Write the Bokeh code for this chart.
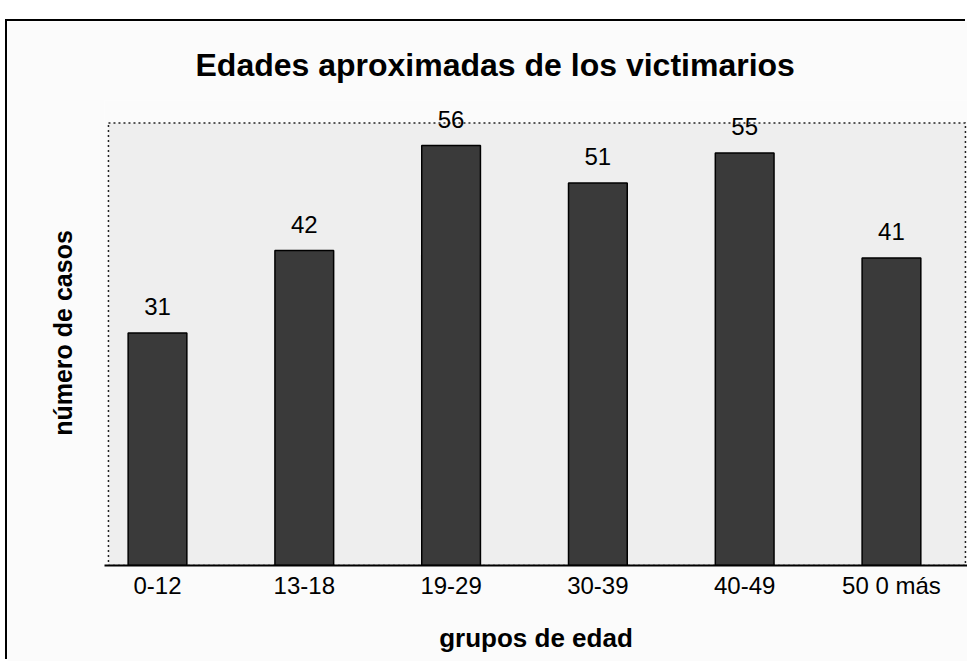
from bokeh.plotting import figure
from bokeh.models import ColumnDataSource, LabelSet, Range1d, FixedTicker, BoxAnnotation
from bokeh.core.properties import value
from bokeh.embed import file_html
from bokeh.resources import INLINE

categories = ["0-12", "13-18", "19-29", "30-39", "40-49", "50 0 más"]
values = [31, 42, 56, 51, 55, 41]
positions = list(range(len(categories)))

source = ColumnDataSource(dict(x=positions, top=values, label=[str(v) for v in values]))

p = figure(width=960, height=640, output_backend="svg", toolbar_location=None,
           x_range=Range1d(-0.361, 5.518), y_range=Range1d(0, 62),
           min_border_left=97, min_border_right=0, min_border_top=79, min_border_bottom=96,
           title="Edades aproximadas de los victimarios", margin=(21, 0, 0, 7))

p.styles = {"box-shadow": "-2px -2px 0 0 black"}
p.background_fill_color = "#fbfbfb"
p.border_fill_color = "#fbfbfb"
p.outline_line_color = None

p.title.text_font = "Liberation Sans"
p.title.text_font_size = "32px"
p.title.text_font_style = "bold"
p.title.align = "left"
p.title.offset = 91
p.title.standoff = 36
p.title.text_color = "black"

p.xgrid.visible = False
p.ygrid.visible = False

# speckled grey plot area with a dotted border (top, left, right)
p.add_layout(BoxAnnotation(bottom=0, top=59, left=-0.334, right=5.504,
                           fill_color="#eeeeee", fill_alpha=1,
                           line_color="#222222", line_alpha=1, line_dash="2 3", line_width=1.5,
                           level="underlay"))

p.vbar(x="x", top="top", width=0.40, source=source,
       fill_color="#3a3a3a", line_color="black", line_width=1.5)

labels = LabelSet(x="x", y="top", text="label", source=source, y_offset=18,
                  text_align="center", text_baseline="alphabetic",
                  text_font=value("Liberation Sans"), text_font_size=value("24px"),
                  text_color="black")
p.add_layout(labels)

xa = p.xaxis[0]
xa.ticker = FixedTicker(ticks=positions)
xa.major_label_overrides = {i: c for i, c in zip(positions, categories)}
xa.major_tick_line_color = None
xa.major_tick_out = 0
xa.major_tick_in = 0
xa.minor_tick_line_color = None
xa.axis_line_color = "black"
xa.axis_line_width = 2
xa.major_label_text_font = "Liberation Sans"
xa.major_label_text_font_size = "24px"
xa.major_label_text_color = "black"
xa.major_label_standoff = 6
xa.axis_label = "grupos de edad"
xa.axis_label_text_font = "Liberation Sans"
xa.axis_label_text_font_size = "26px"
xa.axis_label_text_font_style = "bold"
xa.axis_label_text_color = "black"
xa.axis_label_standoff = 21

ya = p.yaxis[0]
ya.ticker = FixedTicker(ticks=[])
ya.major_tick_line_color = None
ya.major_tick_out = 0
ya.major_tick_in = 0
ya.minor_tick_line_color = None
ya.axis_line_color = None
ya.axis_label = "número de casos"
ya.axis_label_text_font = "Liberation Sans"
ya.axis_label_text_font_size = "25px"
ya.axis_label_text_font_style = "bold"
ya.axis_label_text_color = "black"
ya.axis_label_standoff = 28

open("out.html", "w").write(file_html(p, INLINE))
